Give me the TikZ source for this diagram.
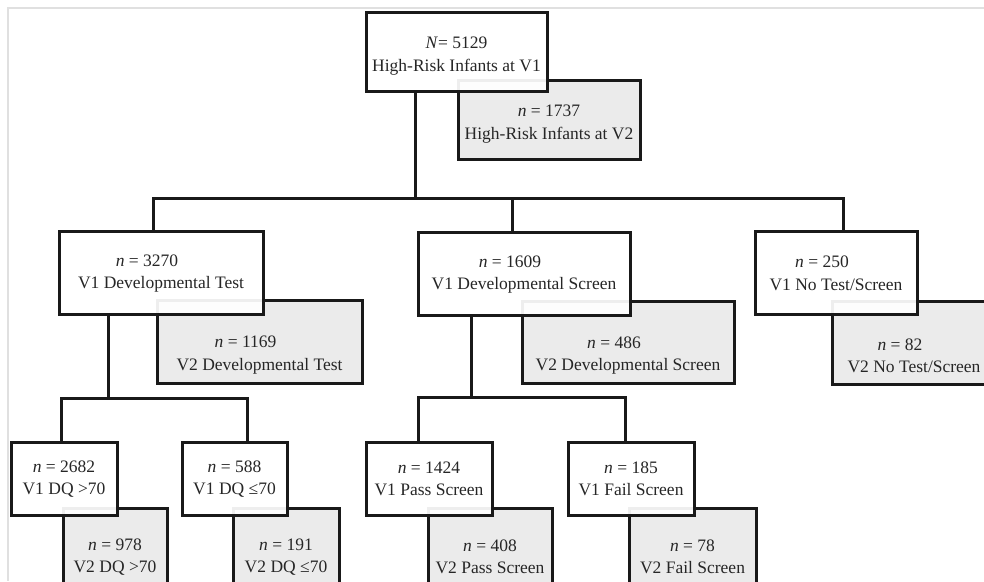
\documentclass[tikz,border=0pt]{standalone}
\usepackage{fontspec}
\setmainfont{Liberation Serif}
\usetikzlibrary{calc}
\begin{document}
\begin{tikzpicture}[x=1pt,y=-1pt,
  conn/.style={line width=3pt, draw=black!90},
  vonebox/.style={draw=black!90, line width=3pt, fill=white, fill opacity=0.93, inner sep=0pt, outer sep=0pt},
  vtwobox/.style={draw=black!90, line width=3pt, fill=black!8, inner sep=0pt, outer sep=0pt},
  txt/.style={align=center, inner sep=0pt, text=black!85, font=\fontsize{17.5}{22.5}\selectfont},
  frame/.style={draw=black!12, line width=1.5pt}
]
\newcommand\mkbox[8]{%
  \node[#6, minimum width={#4-#2}, minimum height={#5-#3}] (#1) at ({(#2+#4)/2},{(#3+#5)/2}) {};
  \node[txt] (#1-t) at ($(#1.center)+(0,#7)$) {#8};
}
\useasboundingbox (0,0) rectangle (984,581);
\clip (0,0) rectangle (984,581);
\draw[frame] (8,581) -- (8,8) -- (984,8);

% junction coordinates
\coordinate (j0) at (415,198);
\coordinate (jL) at (153,198);
\coordinate (jM) at (512,198);
\coordinate (jR) at (843,198);
\coordinate (k0) at (108,398);
\coordinate (kL) at (61,398);
\coordinate (kR) at (247,398);
\coordinate (m0) at (471,397);
\coordinate (mL) at (418,397);
\coordinate (mR) at (625,397);

% V2 boxes
\mkbox{topb}{458}{80}{640}{159}{vtwobox}{4.5}{\textit{n} = 1737\\High-Risk Infants at V2}
\mkbox{dtb}{157}{300}{362}{383}{vtwobox}{13.5}{\textit{n} = 1169\hspace*{28pt}\null\\V2 Developmental Test}
\mkbox{dsb}{522}{301}{734}{383}{vtwobox}{13.5}{\textit{n} = 486\hspace*{28pt}\null\\V2 Developmental Screen}
\mkbox{ntb}{832}{301}{996}{384}{vtwobox}{13.5}{\textit{n} = 82\hspace*{28pt}\null\\V2 No Test/Screen}
\mkbox{gtb}{63}{508}{167}{598}{vtwobox}{4}{\textit{n} = 978\\V2 DQ >70}
\mkbox{leb}{233}{508}{339}{598}{vtwobox}{4}{\textit{n} = 191\\V2 DQ ≤70}
\mkbox{psb}{428}{508}{552}{598}{vtwobox}{4}{\textit{n} = 408\\V2 Pass Screen}
\mkbox{fsb}{629}{508}{756}{598}{vtwobox}{4}{\textit{n} = 78\\V2 Fail Screen}

% connectors
\draw[conn] (j0 |- 0,91) -- (j0);
\draw[conn] (jL |- 0,231) -- (jL) -- (jR) -- (jR |- 0,231);
\draw[conn] (jM) -- (jM |- 0,232);
\draw[conn] (k0 |- 0,314) -- (k0);
\draw[conn] (kL |- 0,442) -- (kL) -- (kR) -- (kR |- 0,442);
\draw[conn] (m0 |- 0,315) -- (m0);
\draw[conn] (mL |- 0,442) -- (mL) -- (mR) -- (mR |- 0,442);

% V1 boxes
\mkbox{top}{366}{12}{547}{91}{vonebox}{4.5}{\textit{N}= 5129\\High-Risk Infants at V1}
\mkbox{dt}{59}{231}{263}{314}{vonebox}{1}{\textit{n} = 3270\hspace*{28pt}\null\\V1 Developmental Test}
\mkbox{ds}{418}{232}{630}{315}{vonebox}{1}{\textit{n} = 1609\hspace*{28pt}\null\\V1 Developmental Screen}
\mkbox{nt}{755}{231}{917}{314}{vonebox}{1}{\textit{n} = 250\hspace*{28pt}\null\\V1 No Test/Screen}
\mkbox{gt}{11}{442}{117}{515}{vonebox}{0.5}{\textit{n} = 2682\\V1 DQ >70}
\mkbox{le}{182}{442}{287}{515}{vonebox}{0.5}{\textit{n} = 588\\V1 DQ ≤70}
\mkbox{ps}{366}{442}{492}{515}{vonebox}{0.5}{\textit{n} = 1424\\V1 Pass Screen}
\mkbox{fs}{568}{442}{694}{515}{vonebox}{0.5}{\textit{n} = 185\\V1 Fail Screen}
\end{tikzpicture}
\end{document}
